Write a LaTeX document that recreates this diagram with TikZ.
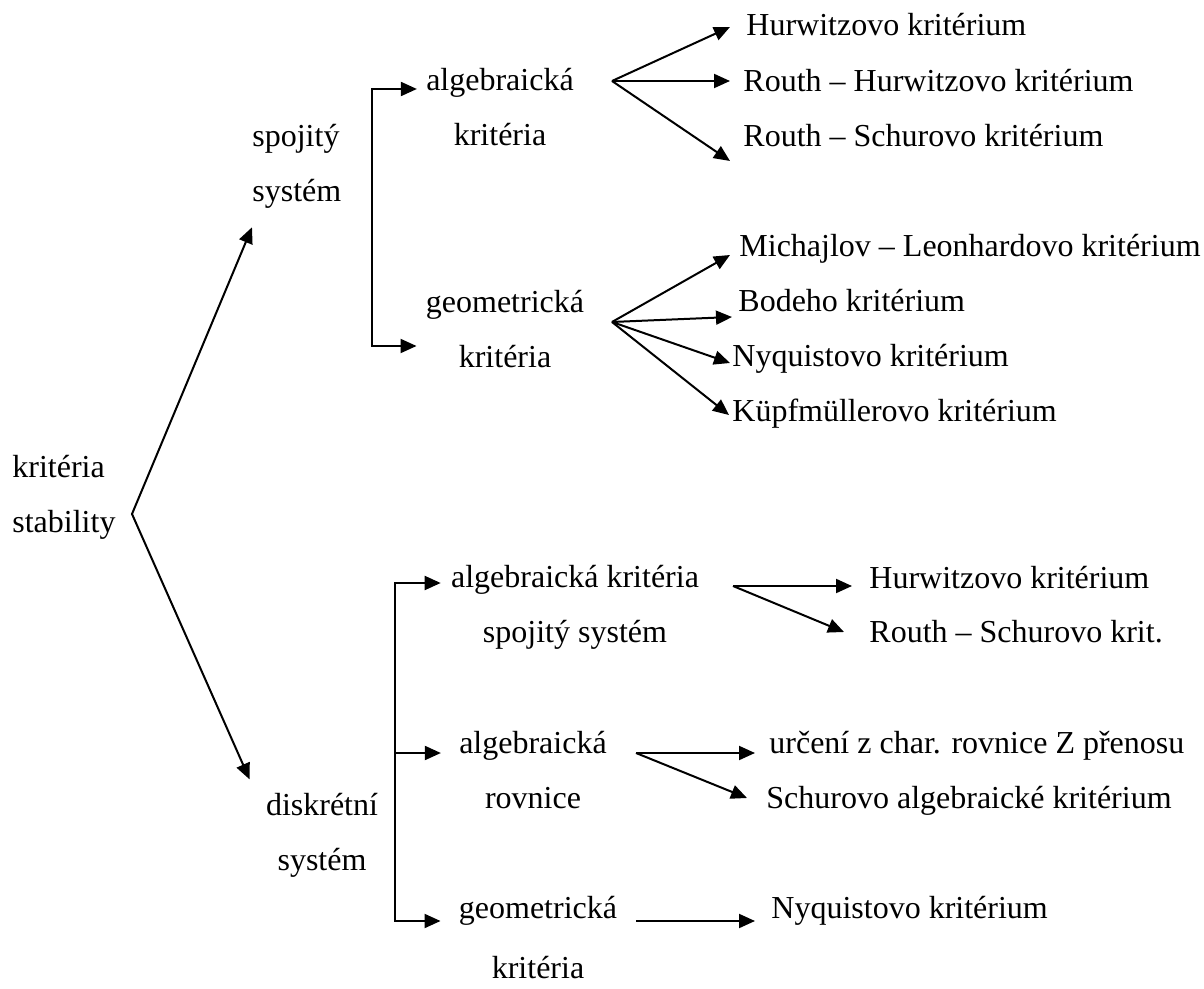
\documentclass[tikz,border=0pt]{standalone}
\usepackage{fontspec}
\setmainfont{Liberation Serif}
\usetikzlibrary{arrows.meta,positioning}

\tikzset{
  lbl/.style={font=\fontsize{16}{27.5}\selectfont, inner sep=0pt},
  conn/.style={line width=1pt}
}

\begin{document}
\begin{tikzpicture}[x=0.5pt,y=-0.5pt,>={Triangle[length=8pt,width=7pt]}]
  \useasboundingbox (0,0) rectangle (1204,989);
  % left part (two-line nodes sit on the baseline of their last line)
  \node[lbl,anchor=base west,align=left] (ks) at (12,532) {kritéria\\stability};
  \node[lbl,anchor=base west,align=left] (ss) at (252,202) {spojitý\\systém};
  \node[lbl,anchor=base,align=center] (ds) at (322,870) {diskrétní\\systém};
  \coordinate (v) at (132,514);
  \draw[conn,<->] ([yshift=-9pt]ss.south west) -- (v) -- ([shift={(-8pt,6.5pt)}]ds.north west);
  % spojity system
  \node[lbl,anchor=base,align=center] (ak1) at (500,146) {algebraická\\kritéria};
  \node[lbl,anchor=base,align=center] (gk1) at (505,368) {geometrická\\kritéria};
  \coordinate (k1) at (372,89);
  \coordinate (k2) at (372,346);
  \draw[conn,<->,shorten <=4.5pt,shorten >=4.5pt] (k1 -| ak1.west) -- (k1) -- (k2) -- (k2 -| gk1.west);
  \node[lbl,anchor=base west] (hk1) at (746,36) {Hurwitzovo kritérium};
  \node[lbl,anchor=base west] (rhk) at (743,92) {Routh – Hurwitzovo kritérium};
  \node[lbl,anchor=base west] (rsk) at (743,147) {Routh – Schurovo kritérium};
  \node[lbl,anchor=base west] (mlk) at (739,257) {Michajlov – Leonhardovo kritérium};
  \node[lbl,anchor=base west] (bok) at (738,312) {Bodeho kritérium};
  \node[lbl,anchor=base west] (nyk1) at (732,367) {Nyquistovo kritérium};
  \node[lbl,anchor=base west] (kuk) at (732,422) {Küpfmüllerovo kritérium};
  \coordinate (b1) at (612,81);
  \coordinate (b2) at (612,322);
  \foreach \t/\dx/\dy in {hk1/-8/4.5,rhk/-6.5/5.5,rsk/-6.5/-7}
    \draw[conn,->] (b1) -- ([shift={(\dx pt,\dy pt)}]\t.base west);
  \foreach \t/\dx/\dy in {mlk/-4.5/1,bok/-3/-2.5,nyk1/-1/2,kuk/-1.5/3.5}
    \draw[conn,->] (b2) -- ([shift={(\dx pt,\dy pt)}]\t.base west);
  % diskretni system
  \node[lbl,anchor=base,align=center] (ak2) at (575,642) {algebraická kritéria\\spojitý systém};
  \node[lbl,anchor=base,align=center] (ar) at (533,808) {algebraická\\rovnice};
  \node[lbl,anchor=base,align=center] (gk2) at (538,978) {geometrická\\[2.5pt]kritéria};
  \coordinate (k3) at (395,583);
  \coordinate (k4) at (395,753);
  \coordinate (k5) at (395,921);
  \draw[conn,<->,shorten <=5pt,shorten >=9pt] (k3 -| ak2.west) -- (k3) -- (k5) -- (k5 -| gk2.west);
  \draw[conn,->,shorten >=9pt] (k4) -- (k4 -| ar.west);
  \node[lbl,anchor=base west] (hk2) at (869,588) {Hurwitzovo kritérium};
  \node[lbl,anchor=base west] (rsk2) at (869,642) {Routh – Schurovo krit.};
  \node[lbl,anchor=base west] (urc) at (769,753) {určení z char. rovnice Z přenosu};
  \node[lbl,anchor=base west] (sak) at (766,808) {Schurovo algebraické kritérium};
  \node[lbl,anchor=base west] (nyk2) at (771,918) {Nyquistovo kritérium};
  \coordinate (b3) at (733,586);
  \coordinate (b4) at (636,753);
  \coordinate (b5) at (636,921);
  \draw[conn,->] (b3) -- ([shift={(-8.5pt,1pt)}]hk2.base west);
  \draw[conn,->] (b3) -- ([shift={(-12.5pt,5pt)}]rsk2.base west);
  \draw[conn,->] (b4) -- ([shift={(-7pt,0pt)}]urc.base west);
  \draw[conn,->] (b4) -- ([shift={(-9.5pt,5pt)}]sak.base west);
  \draw[conn,->] (b5) -- ([shift={(-8pt,-1.5pt)}]nyk2.base west);
\end{tikzpicture}
\end{document}
